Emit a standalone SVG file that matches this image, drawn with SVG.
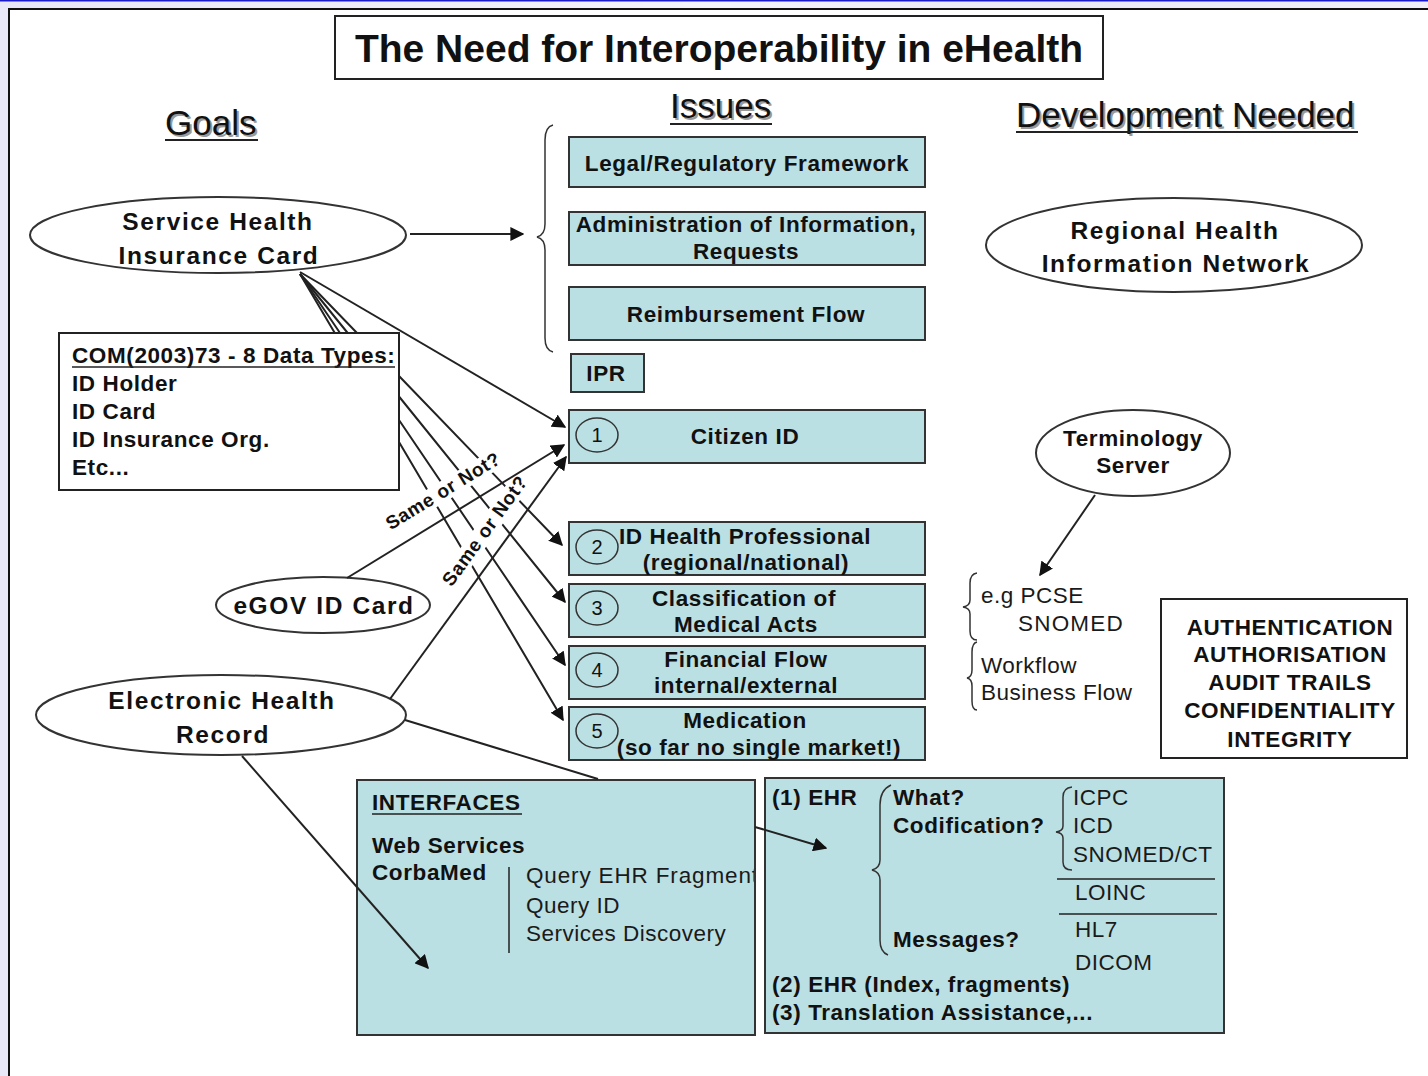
<svg xmlns="http://www.w3.org/2000/svg" width="1428" height="1076" viewBox="0 0 1428 1076">
<defs>
<style>
text{font-family:"Liberation Sans",Arial,sans-serif;fill:#111}
.t{font-size:39px;font-weight:bold;text-anchor:middle}
.h{font-size:35px}
.hs{font-size:35px;fill:#9a9a9a}
.b{font-size:22.5px;font-weight:bold;letter-spacing:0.6px}
.bc{font-size:22.5px;font-weight:bold;letter-spacing:0.6px;text-anchor:middle}
.e{font-size:24.5px;font-weight:bold;letter-spacing:1.6px;text-anchor:middle}
.r{font-size:22.5px;letter-spacing:0.5px;fill:#1a1a1a}
.n{font-size:20px;text-anchor:middle}
.lbl{font-size:19px;font-weight:bold;letter-spacing:0.6px;text-anchor:middle}
.lblbg{fill:#fff}
.box{fill:#bbe0e3;stroke:#333;stroke-width:2}
.wbox{fill:#fff;stroke:#222;stroke-width:2}
.ell{fill:#fff;stroke:#333;stroke-width:2}
.num{fill:none;stroke:#333;stroke-width:1.5}
.br{fill:none;stroke:#333;stroke-width:1.5}
.con{fill:none;stroke:#222;stroke-width:2;marker-end:url(#arr)}
</style>
<marker id="arr" viewBox="0 0 10 10" refX="9" refY="5" markerWidth="7" markerHeight="7" orient="auto" markerUnits="strokeWidth">
<path d="M0,0 L10,5 L0,10 z" fill="#111"/>
</marker>
<linearGradient id="topg" x1="0" y1="0" x2="1" y2="0">
<stop offset="0" stop-color="#e6e6f8"/>
<stop offset="0.5" stop-color="#f4f4fc"/>
<stop offset="0.75" stop-color="#e9e9f8"/>
<stop offset="1" stop-color="#f0f0fb"/>
</linearGradient>
<clipPath id="ifclip"><rect x="358" y="781" width="396" height="253"/></clipPath>
</defs>

<!-- background frame -->
<rect x="0" y="0" width="1428" height="1076" fill="#fff"/>
<rect x="0" y="0" width="1428" height="9" fill="url(#topg)"/>
<rect x="0" y="0" width="9" height="1076" fill="#e8e8f9"/>
<rect x="0" y="0" width="1428" height="1.5" fill="#1a1ac8"/>
<path d="M9,1076 L9,9 L1428,9" fill="none" stroke="#111" stroke-width="2"/>

<!-- title -->
<g id="title">
<rect x="335" y="16" width="768" height="63" fill="#fff" stroke="#222" stroke-width="2"/>
<text class="t" x="719" y="62">The Need for Interoperability in eHealth</text>
</g>

<!-- headers -->
<g id="hdr-goals">
<text class="hs" x="167" y="137">Goals</text>
<text class="h" x="165" y="135">Goals</text>
<line x1="165" y1="140" x2="258" y2="140" stroke="#222" stroke-width="2"/>
</g>
<g id="hdr-issues">
<text class="hs" x="672" y="120">Issues</text>
<text class="h" x="670" y="118">Issues</text>
<line x1="670" y1="124" x2="772" y2="124" stroke="#222" stroke-width="2"/>
</g>
<g id="hdr-dev">
<text class="hs" x="1018" y="129">Development Needed</text>
<text class="h" x="1016" y="127">Development Needed</text>
<line x1="1016" y1="132" x2="1358" y2="132" stroke="#222" stroke-width="2"/>
</g>

<!-- goals -->
<g id="shic">
<ellipse class="ell" cx="218" cy="235" rx="188" ry="38"/>
<text class="e" x="218" y="230">Service Health</text>
<text class="e" x="219" y="264">Insurance Card</text>
</g>
<g id="com">
<rect class="wbox" x="59" y="333" width="340" height="157"/>
<text class="b" x="72" y="363">COM(2003)73 - 8 Data Types:</text>
<line x1="72" y1="367" x2="395" y2="367" stroke="#222" stroke-width="1.5"/>
<text class="b" x="72" y="391">ID Holder</text>
<text class="b" x="72" y="419">ID Card</text>
<text class="b" x="72" y="447">ID Insurance Org.</text>
<text class="b" x="72" y="475">Etc...</text>
</g>
<g id="egov">
<ellipse class="ell" cx="323" cy="605" rx="107" ry="28"/>
<text class="e" x="324" y="614">eGOV ID Card</text>
</g>
<g id="ehr">
<ellipse class="ell" cx="221" cy="715" rx="185" ry="40"/>
<text class="e" x="222" y="709">Electronic Health</text>
<text class="e" x="223" y="743">Record</text>
</g>

<!-- issues -->
<g id="issues-brace">
<path class="br" d="M553,125 Q545,127 545,140 L545,224 Q545,235 537,237 Q545,239 545,250 L545,338 Q545,350 553,352"/>
</g>
<g id="legal">
<rect class="box" x="569" y="137" width="356" height="50"/>
<text class="bc" x="747" y="171">Legal/Regulatory Framework</text>
</g>
<g id="admin">
<rect class="box" x="569" y="212" width="356" height="53"/>
<text class="bc" x="746" y="232">Administration of Information,</text>
<text class="bc" x="746" y="259">Requests</text>
</g>
<g id="reimb">
<rect class="box" x="569" y="287" width="356" height="53"/>
<text class="bc" x="746" y="322">Reimbursement Flow</text>
</g>
<g id="ipr">
<rect class="box" x="571" y="354" width="73" height="38"/>
<text class="bc" x="606" y="381">IPR</text>
</g>
<g id="citizen">
<rect class="box" x="569" y="410" width="356" height="53"/>
<ellipse class="num" cx="597" cy="435" rx="21" ry="17"/>
<text class="n" x="597" y="442">1</text>
<text class="bc" x="745" y="444">Citizen ID</text>
</g>
<g id="idhp">
<rect class="box" x="569" y="522" width="356" height="53"/>
<ellipse class="num" cx="597" cy="547" rx="21" ry="17"/>
<text class="n" x="597" y="554">2</text>
<text class="bc" x="745" y="544">ID Health Professional</text>
<text class="bc" x="746" y="570">(regional/national)</text>
</g>
<g id="classif">
<rect class="box" x="569" y="584" width="356" height="53"/>
<ellipse class="num" cx="597" cy="608" rx="21" ry="17"/>
<text class="n" x="597" y="615">3</text>
<text class="bc" x="744" y="606">Classification of</text>
<text class="bc" x="746" y="632">Medical Acts</text>
</g>
<g id="financial">
<rect class="box" x="569" y="646" width="356" height="53"/>
<ellipse class="num" cx="597" cy="670" rx="21" ry="17"/>
<text class="n" x="597" y="677">4</text>
<text class="bc" x="746" y="667">Financial Flow</text>
<text class="bc" x="746" y="693">internal/external</text>
</g>
<g id="medication">
<rect class="box" x="569" y="707" width="356" height="53"/>
<ellipse class="num" cx="597" cy="731" rx="21" ry="17"/>
<text class="n" x="597" y="738">5</text>
<text class="bc" x="745" y="728">Medication</text>
<text class="bc" x="759" y="755">(so far no single market!)</text>
</g>

<!-- development needed -->
<g id="rhin">
<ellipse class="ell" cx="1174" cy="245" rx="188" ry="47"/>
<text class="e" x="1175" y="239">Regional Health</text>
<text class="e" x="1176" y="272">Information Network</text>
</g>
<g id="term">
<ellipse class="ell" cx="1133" cy="453" rx="97" ry="43"/>
<text class="bc" x="1133" y="446">Terminology</text>
<text class="bc" x="1133" y="473">Server</text>
</g>
<g id="termlist">
<path class="br" d="M977,573 Q970,574 970,583 L970,600 Q970,606 963,607 Q970,608 970,614 L970,631 Q970,640 977,640"/>
<text class="r" x="981" y="603">e.g PCSE</text>
<text class="r" x="1018" y="631" style="letter-spacing:1.2px">SNOMED</text>
<path class="br" d="M977,642 Q972,643 972,652 L972,670 Q972,677 967,678 Q972,679 972,686 L972,701 Q972,710 977,710"/>
<text class="r" x="981" y="673">Workflow</text>
<text class="r" x="981" y="700">Business Flow</text>
</g>
<g id="auth">
<rect class="wbox" x="1161" y="599" width="246" height="159"/>
<text class="bc" x="1290" y="635">AUTHENTICATION</text>
<text class="bc" x="1290" y="662">AUTHORISATION</text>
<text class="bc" x="1290" y="690">AUDIT TRAILS</text>
<text class="bc" x="1290" y="718">CONFIDENTIALITY</text>
<text class="bc" x="1290" y="747">INTEGRITY</text>
</g>

<!-- bottom -->
<g id="interfaces">
<rect class="box" x="357" y="780" width="398" height="255"/>
<text class="b" x="372" y="810">INTERFACES</text>
<line x1="372" y1="814" x2="522" y2="814" stroke="#222" stroke-width="1.5"/>
<text class="b" x="372" y="853">Web Services</text>
<text class="b" x="372" y="880">CorbaMed</text>
<line x1="509" y1="867" x2="509" y2="953" stroke="#222" stroke-width="1.5"/>
<g clip-path="url(#ifclip)">
<text class="r" x="526" y="883" style="letter-spacing:0.85px">Query EHR Fragment</text>
</g>
<text class="r" x="526" y="913">Query ID</text>
<text class="r" x="526" y="941">Services Discovery</text>
</g>
<g id="ehrbox">
<rect class="box" x="765" y="778" width="459" height="255"/>
<text class="b" x="772" y="805">(1) EHR</text>
<path class="br" d="M891,785 Q880,790 880,805 L880,860 Q880,868 872,870 Q880,872 880,880 L880,940 Q880,952 888,955"/>
<text class="b" x="893" y="805">What?</text>
<text class="b" x="893" y="833">Codification?</text>
<text class="b" x="893" y="947">Messages?</text>
<path class="br" d="M1072,787 Q1063,788 1063,797 L1063,826 Q1063,831 1056,832 Q1063,833 1063,838 L1063,862 Q1063,870 1072,870"/>
<text class="r" x="1073" y="805">ICPC</text>
<text class="r" x="1073" y="833">ICD</text>
<text class="r" x="1073" y="862">SNOMED/CT</text>
<line x1="1057" y1="879" x2="1215" y2="879" stroke="#222" stroke-width="1.5"/>
<text class="r" x="1075" y="900">LOINC</text>
<line x1="1059" y1="914" x2="1217" y2="914" stroke="#222" stroke-width="1.5"/>
<text class="r" x="1075" y="937">HL7</text>
<text class="r" x="1075" y="970">DICOM</text>
<text class="b" x="772" y="992">(2) EHR (Index, fragments)</text>
<text class="b" x="772" y="1020">(3) Translation Assistance,...</text>
</g>

<!-- connectors -->
<g id="connectors">
<path class="con" d="M410,234 L523,234"/>
<path class="con" d="M300,272 L565,427"/>
<path class="con" d="M300,274 L357,333 M399,376 L562,545"/>
<path class="con" d="M300,274 L347.7,333 M399,396.5 L565,602"/>
<path class="con" d="M300,274 L340,333 M399,420 L565,665"/>
<path class="con" d="M300,274 L334.8,333 M399,442 L563,720"/>
<g transform="translate(446.4,496.4) rotate(-31.5)">
<rect class="lblbg" x="-66" y="-16" width="132" height="20"/>
<text class="lbl" x="0" y="0">Same or Not?</text>
</g>
<g transform="translate(490,534.5) rotate(-54)">
<rect class="lblbg" x="-66" y="-16" width="132" height="20"/>
<text class="lbl" x="0" y="0">Same or Not?</text>
</g>
<path class="con" d="M347,578 L564,445"/>
<path class="con" d="M390,699 L566,457"/>
<path class="con" d="M405,720 L598,779 M755,827 L826,848"/>
<path class="con" d="M242,756 L428,968"/>
<path class="con" d="M1095,495 L1040,575"/>
</g>
</svg>
